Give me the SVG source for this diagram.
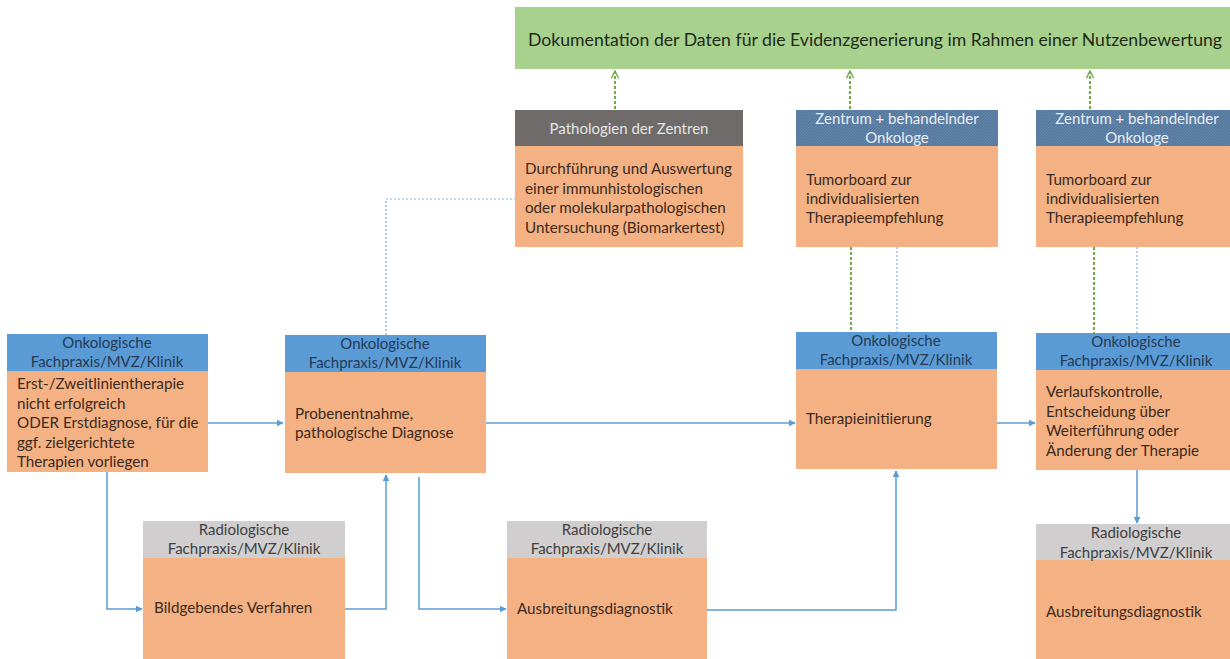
<svg xmlns="http://www.w3.org/2000/svg" width="1230" height="659" viewBox="0 0 1230 659">
<style>
text{font-family:Lato,"Open Sans","DejaVu Sans",sans-serif;font-size:15.2px;fill:#3a2a20}
.hd{font-size:15px;fill:#243a55;text-anchor:middle}
.hg{font-size:15px;fill:#404040;text-anchor:middle}
.hw{font-size:15px;fill:#e9eef4;text-anchor:middle}
.body{fill:#f4b183}
.blue{fill:#5b9bd5}
.grey{fill:#d0cece}
.sol{fill:none;stroke:#5b9bd5;stroke-width:1.5}
.dot{fill:none;stroke:#7fb0de;stroke-width:1.2;stroke-dasharray:2 2}
.grn{fill:none;stroke:#70ad47;stroke-width:2;stroke-dasharray:3 2}
</style>
<defs>
<marker id="ar" viewBox="0 0 10 10" refX="9" refY="5" markerWidth="7" markerHeight="7" orient="auto" markerUnits="userSpaceOnUse">
<path d="M0,0 L10,5 L0,10 z" fill="#5b9bd5"/>
</marker>
<marker id="ga" viewBox="0 0 10 10" refX="9" refY="5" markerWidth="9" markerHeight="9" orient="auto" markerUnits="userSpaceOnUse">
<path d="M1,1 L9,5 L1,9" fill="none" stroke="#70ad47" stroke-width="1.6"/>
</marker>
<pattern id="hatch" width="3" height="3" patternUnits="userSpaceOnUse">
<rect width="3" height="3" fill="#56799f"/>
<path d="M0,3 L3,0" stroke="#6a8ab0" stroke-width="0.8"/>
</pattern>
</defs>

<g id="banner">
<rect x="515" y="7" width="720" height="62" fill="#a9d18e"/>
<text x="528" y="46" style="font-size:17px;fill:#1e2a18" textLength="694" lengthAdjust="spacingAndGlyphs">Dokumentation  der Daten für die Evidenzgenerierung  im Rahmen  einer Nutzenbewertung</text>
</g>

<g id="pathologie">
<rect x="515" y="110" width="228" height="36" fill="#6f6b6a"/>
<rect class="body" x="515" y="146" width="228" height="101"/>
<text class="hw" x="629" y="134" style="fill:#e4e4e4">Pathologien der Zentren</text>
<text x="525" y="174">Durchführung und Auswertung</text>
<text x="525" y="194">einer immunhistologischen</text>
<text x="525" y="213">oder molekularpathologischen</text>
<text x="525" y="233">Untersuchung (Biomarkertest)</text>
</g>

<g id="tumorboard1">
<rect x="796" y="110" width="202" height="36" fill="url(#hatch)"/>
<rect class="body" x="796" y="146" width="202" height="101"/>
<text class="hw" x="897" y="124">Zentrum + behandelnder</text>
<text class="hw" x="897" y="143">Onkologe</text>
<text x="806" y="185">Tumorboard zur</text>
<text x="806" y="204">individualisierten</text>
<text x="806" y="223">Therapieempfehlung</text>
</g>

<g id="tumorboard2">
<rect x="1036" y="110" width="202" height="36" fill="url(#hatch)"/>
<rect class="body" x="1036" y="146" width="202" height="101"/>
<text class="hw" x="1137" y="124">Zentrum + behandelnder</text>
<text class="hw" x="1137" y="143">Onkologe</text>
<text x="1046" y="185">Tumorboard zur</text>
<text x="1046" y="204">individualisierten</text>
<text x="1046" y="223">Therapieempfehlung</text>
</g>

<g id="start">
<rect class="blue" x="7" y="334" width="201" height="37"/>
<rect class="body" x="7" y="371" width="201" height="101"/>
<text class="hd" x="107" y="348">Onkologische</text>
<text class="hd" x="107" y="367">Fachpraxis/MVZ/Klinik</text>
<text x="17" y="389">Erst-/Zweitlinientherapie</text>
<text x="17" y="408.5">nicht erfolgreich</text>
<text x="17" y="428">ODER Erstdiagnose, für die</text>
<text x="17" y="447.5">ggf. zielgerichtete</text>
<text x="17" y="467">Therapien vorliegen</text>
</g>

<g id="probe">
<rect class="blue" x="285" y="335" width="201" height="37"/>
<rect class="body" x="285" y="372" width="201" height="101"/>
<text class="hd" x="385" y="349">Onkologische</text>
<text class="hd" x="385" y="368">Fachpraxis/MVZ/Klinik</text>
<text x="295" y="419">Probenentnahme,</text>
<text x="295" y="438">pathologische Diagnose</text>
</g>

<g id="therapie">
<rect class="blue" x="796" y="332" width="201" height="37"/>
<rect class="body" x="796" y="369" width="201" height="100"/>
<text class="hd" x="896" y="346">Onkologische</text>
<text class="hd" x="896" y="365">Fachpraxis/MVZ/Klinik</text>
<text x="806" y="424">Therapieinitiierung</text>
</g>

<g id="verlauf">
<rect class="blue" x="1036" y="333" width="201" height="37"/>
<rect class="body" x="1036" y="370" width="201" height="100"/>
<text class="hd" x="1136" y="347">Onkologische</text>
<text class="hd" x="1136" y="366">Fachpraxis/MVZ/Klinik</text>
<text x="1046" y="397">Verlaufskontrolle,</text>
<text x="1046" y="417">Entscheidung über</text>
<text x="1046" y="436">Weiterführung oder</text>
<text x="1046" y="456">Änderung der Therapie</text>
</g>

<g id="bildgebung">
<rect class="grey" x="143" y="521" width="202" height="37"/>
<rect class="body" x="143" y="558" width="202" height="101"/>
<text class="hg" x="244" y="535">Radiologische</text>
<text class="hg" x="244" y="554">Fachpraxis/MVZ/Klinik</text>
<text x="154" y="613">Bildgebendes Verfahren</text>
</g>

<g id="ausbreitung1">
<rect class="grey" x="507" y="521" width="200" height="37"/>
<rect class="body" x="507" y="558" width="200" height="101"/>
<text class="hg" x="607" y="535">Radiologische</text>
<text class="hg" x="607" y="554">Fachpraxis/MVZ/Klinik</text>
<text x="517" y="614">Ausbreitungsdiagnostik</text>
</g>

<g id="ausbreitung2">
<rect class="grey" x="1036" y="524" width="201" height="36"/>
<rect class="body" x="1036" y="560" width="201" height="99"/>
<text class="hg" x="1136" y="538">Radiologische</text>
<text class="hg" x="1136" y="558">Fachpraxis/MVZ/Klinik</text>
<text x="1046" y="617">Ausbreitungsdiagnostik</text>
</g>

<g id="connectors">
<path class="sol" d="M208,423 H283" marker-end="url(#ar)"/>
<path class="sol" d="M107,472 V609 H142" marker-end="url(#ar)"/>
<path class="sol" d="M345,609 H386 V475" marker-end="url(#ar)"/>
<path class="sol" d="M419,477 V609 H506" marker-end="url(#ar)"/>
<path class="sol" d="M707,610 H896 V471" marker-end="url(#ar)"/>
<path class="sol" d="M486,423 H795" marker-end="url(#ar)"/>
<path class="sol" d="M997,423 H1035" marker-end="url(#ar)"/>
<path class="sol" d="M1137,470 V523" marker-end="url(#ar)"/>
<path class="dot" d="M386,335 V199 H515"/>
<path class="dot" d="M897,247 V332"/>
<path class="dot" d="M1137,247 V333"/>
<path class="grn" d="M851,247 V332"/>
<path class="grn" d="M1094,247 V333"/>
<path class="grn" d="M615,109 V71" marker-end="url(#ga)"/>
<path class="grn" d="M850,109 V71" marker-end="url(#ga)"/>
<path class="grn" d="M1090,109 V71" marker-end="url(#ga)"/>
</g>
</svg>
